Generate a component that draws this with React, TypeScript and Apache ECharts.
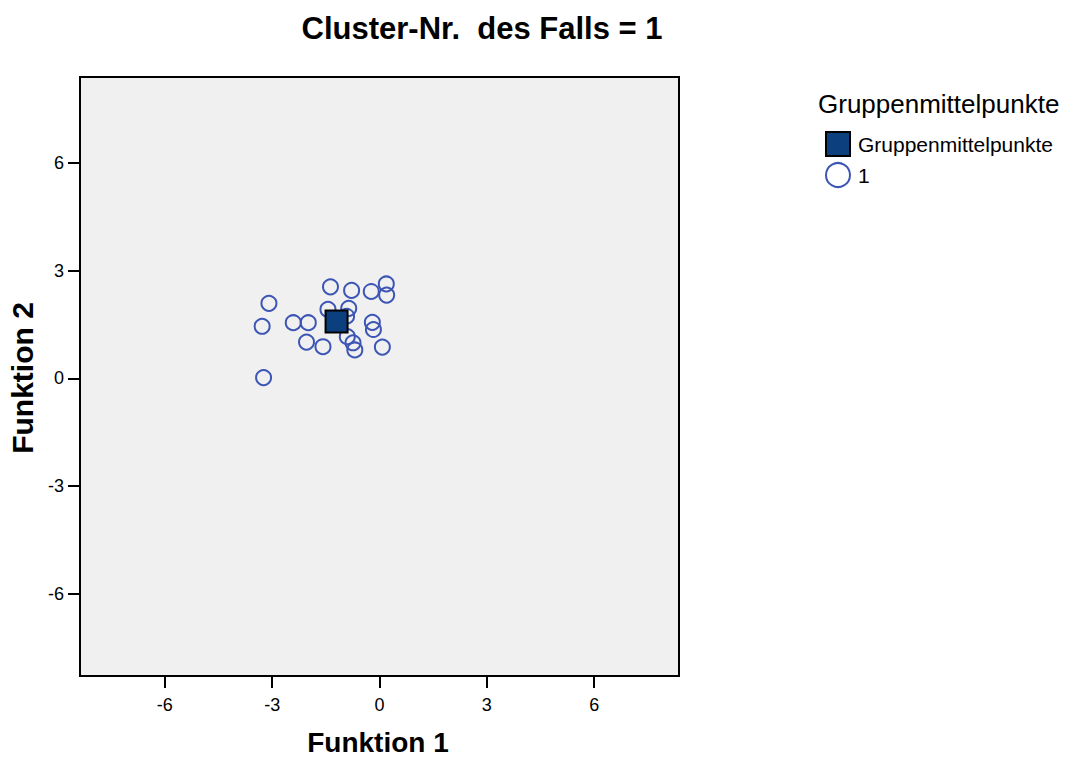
import React, { useEffect, useRef } from "react";
import * as echarts from "echarts";

const titleText = "Cluster-Nr.  des Falls = 1";
const xAxisTitle = "Funktion 1";
const yAxisTitle = "Funktion 2";
const legendTitle = "Gruppenmittelpunkte";
const tickValues = [-6, -3, 0, 3, 6];

const caseF1 = [-3.09, -3.28, -3.24, -2.41, -1.99, -2.04, -1.58, -1.37, -1.44, -0.86, -0.92, -0.9, -0.74, -0.69, -0.78, -0.23, 0.19, 0.2, -0.2, -0.17, 0.08];
const caseF2 = [2.09, 1.45, 0.02, 1.55, 1.55, 1.01, 0.88, 2.55, 1.92, 1.95, 1.73, 1.16, 0.99, 0.79, 2.45, 2.42, 2.63, 2.32, 1.56, 1.36, 0.87];
const centroidF1 = [-1.2];
const centroidF2 = [1.58];

const FONT = "'Liberation Sans', Arial, Helvetica, sans-serif";

export default function App() {
  const ref = useRef<HTMLDivElement>(null);
  useEffect(() => {
    document.body.style.margin = "0";
    const chart = echarts.init(ref.current!, null, { renderer: "svg" });
    const axisLine = { show: true, onZero: false, lineStyle: { color: "#000", width: 2 } };
    const axisTick = { show: true, inside: false, length: 12, customValues: tickValues, lineStyle: { color: "#000", width: 2 } };
    chart.setOption({
      animation: false,
      textStyle: { fontFamily: FONT },
      grid: {
        left: 80,
        top: 77,
        width: 599,
        height: 599,
        show: true,
        backgroundColor: "#f0f0f0",
        borderColor: "#000",
        borderWidth: 2,
      },
      xAxis: {
        type: "value",
        min: -8.37,
        max: 8.37,
        axisLine,
        axisTick,
        splitLine: { show: false },
        axisLabel: { customValues: tickValues, fontSize: 18, color: "#000", margin: 20, fontFamily: FONT },
      },
      yAxis: {
        type: "value",
        min: -8.3,
        max: 8.4,
        axisLine,
        axisTick,
        splitLine: { show: false },
        axisLabel: { customValues: tickValues, fontSize: 18, color: "#000", margin: 16, fontFamily: FONT },
      },
      legend: {
        orient: "vertical",
        left: 825,
        top: 131,
        padding: 0,
        itemWidth: 24,
        itemHeight: 24,
        itemGap: 5,
        data: ["Gruppenmittelpunkte", "1"],
        textStyle: { fontSize: 21, color: "#000", fontFamily: FONT, padding: [0, 0, 0, 3] },
      },
      graphic: [
        {
          type: "text",
          x: 482,
          y: 28,
          style: { text: titleText, font: `bold 31px ${FONT}`, fill: "#000", textAlign: "center", textVerticalAlign: "middle" },
        },
        {
          type: "text",
          x: 378,
          y: 742,
          style: { text: xAxisTitle, font: `bold 28px ${FONT}`, fill: "#000", textAlign: "center", textVerticalAlign: "middle" },
        },
        {
          type: "text",
          x: 22,
          y: 378,
          rotation: Math.PI / 2,
          style: { text: yAxisTitle, font: `bold 30px ${FONT}`, fill: "#000", textAlign: "center", textVerticalAlign: "middle" },
        },
        {
          type: "text",
          x: 818,
          y: 104,
          style: { text: legendTitle, font: `26px ${FONT}`, fill: "#000", textAlign: "left", textVerticalAlign: "middle" },
        },
      ],
      series: [
        {
          name: "1",
          type: "scatter",
          symbol: "circle",
          symbolSize: 15,
          data: caseF1.map((x, i) => [x, caseF2[i]]),
          itemStyle: { color: "rgba(0,0,0,0)", borderColor: "#3d55b5", borderWidth: 2, opacity: 1 },
          z: 2,
        },
        {
          name: "Gruppenmittelpunkte",
          type: "scatter",
          symbol: "rect",
          symbolSize: 22,
          data: centroidF1.map((x, i) => [x, centroidF2[i]]),
          itemStyle: { color: "#0b3f7d", borderColor: "#000", borderWidth: 2, opacity: 1 },
          z: 3,
        },
      ],
    });
    return () => chart.dispose();
  }, []);
  return <div ref={ref} style={{ width: 1070, height: 761 }} />;
}
